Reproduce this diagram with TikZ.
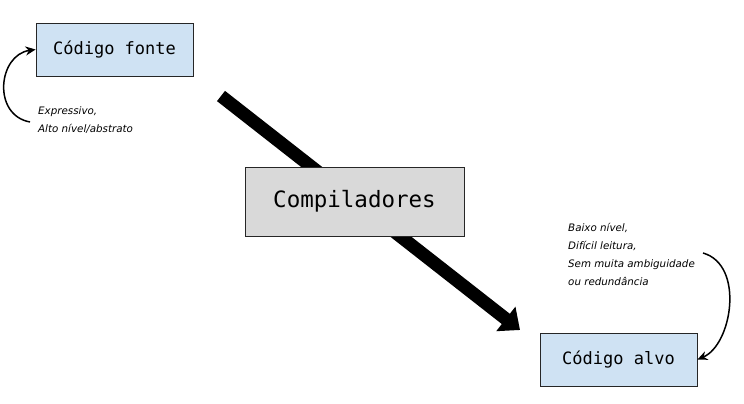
\documentclass[tikz,border=0pt]{standalone}
\usepackage{fontspec}
\setmonofont{DejaVu Sans Mono}
\newfontfamily\handfont{DejaVu Sans}
\usepackage{tikz}
\usetikzlibrary{arrows.meta,positioning}

\definecolor{fonteblue}{RGB}{207,226,243}
\definecolor{compgray}{RGB}{217,217,217}

\begin{document}
\begin{tikzpicture}[x=1pt,y=-1pt]
	\tikzset{code box/.style={draw=black!85,line width=0.8pt,fill=fonteblue,minimum width=157pt,minimum height=53pt,font=\ttfamily\fontsize{17}{20}\selectfont}}
	\tikzset{comp box/.style={code box,fill=compgray,minimum width=219pt,minimum height=69pt,font=\ttfamily\fontsize{22.5}{26}\selectfont}}
	\tikzset{note/.style={align=left,anchor=north west,inner sep=0pt,font=\handfont\itshape\fontsize{10.3}{18}\selectfont}}
	\tikzset{curve arrow/.style={line width=1.5pt,-{Stealth[length=10pt,width=9pt]}}}
	\useasboundingbox (0,0) rectangle (744,404);
	\coordinate (flow-start) at (221,96);
	\coordinate (flow-end) at (520,330);
	\draw[line width=13pt,-{Triangle[length=18pt,width=30pt]}] (flow-start) -- (flow-end);
	\node[code box] (fonte) at (114.5,49.5) {Código fonte};
	\node[comp box] (comp) at (354.5,201.5) {Compiladores};
	\node[code box] (alvo) at (618.5,359.5) {Código alvo};
	\node[note] (expr) at (38,106) {Expressivo,\\Alto nível/abstrato};
	\node[note] (baixo) at (568,223) {Baixo nível,\\Difícil leitura,\\Sem muita ambiguidade\\ou redundância};
	\coordinate (expr-start) at (30,122);
	\coordinate (baixo-start) at (703,253);
	\draw[curve arrow] (expr-start) .. controls (-8,115) and (-2,55) .. (fonte.west);
	\draw[curve arrow] (baixo-start) .. controls (745,265) and (732,345) .. (alvo.east);
\end{tikzpicture}
\end{document}
